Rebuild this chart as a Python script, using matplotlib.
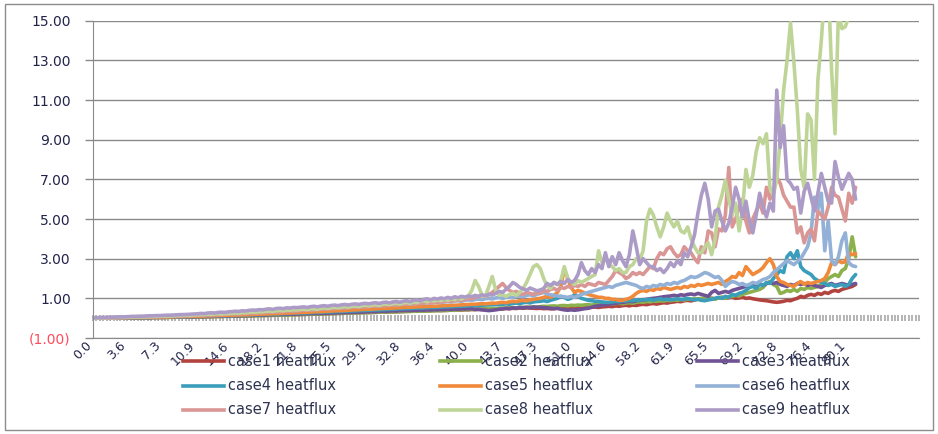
import matplotlib
matplotlib.use("Agg")
import matplotlib.pyplot as plt
from matplotlib.patches import Rectangle
from matplotlib.lines import Line2D
from matplotlib.transforms import ScaledTranslation

# ---------------- data ----------------
n_categories = 241
xtick_labels = ["0.0", "3.6", "7.3", "10.9", "14.6", "18.2", "21.8", "25.5", "29.1", "32.8",
                "36.4", "40.0", "43.7", "47.3", "51.0", "54.6", "58.2", "61.9", "65.5", "69.2",
                "72.8", "76.4", "80.1"]
xtick_index = [0, 10, 20, 30, 40, 50, 60, 70, 80, 90, 100, 110, 120, 130, 140, 150, 160, 170,
               180, 190, 200, 210, 220]
ytick_values = [-1, 1, 3, 5, 7, 9, 11, 13, 15]
ytick_labels = ["(1.00)", "1.00", "3.00", "5.00", "7.00", "9.00", "11.00", "13.00", "15.00"]

case1 = [0.00,0.00,0.00,0.00,0.01,0.01,0.01,0.01,0.01,0.02,
         0.02,0.02,0.02,0.02,0.03,0.03,0.03,0.03,0.04,0.04,
         0.04,0.04,0.05,0.05,0.05,0.05,0.06,0.06,0.06,0.07,
         0.07,0.07,0.08,0.08,0.08,0.09,0.09,0.09,0.10,0.10,
         0.10,0.11,0.11,0.12,0.12,0.12,0.13,0.13,0.14,0.14,
         0.14,0.15,0.15,0.16,0.16,0.17,0.17,0.18,0.18,0.18,
         0.19,0.19,0.20,0.20,0.21,0.21,0.22,0.22,0.23,0.23,
         0.24,0.24,0.25,0.25,0.26,0.26,0.27,0.27,0.28,0.28,
         0.29,0.29,0.30,0.30,0.31,0.31,0.32,0.32,0.33,0.33,
         0.34,0.34,0.35,0.35,0.36,0.36,0.37,0.37,0.38,0.38,
         0.39,0.38,0.40,0.39,0.41,0.40,0.42,0.41,0.43,0.42,
         0.44,0.43,0.45,0.44,0.46,0.45,0.47,0.46,0.48,0.47,
         0.49,0.48,0.50,0.49,0.51,0.50,0.52,0.51,0.50,0.49,
         0.50,0.48,0.49,0.47,0.48,0.50,0.49,0.51,0.50,0.52,
         0.51,0.53,0.52,0.54,0.53,0.55,0.56,0.54,0.57,0.58,
         0.60,0.58,0.62,0.60,0.63,0.65,0.62,0.66,0.64,0.68,
         0.70,0.68,0.72,0.74,0.71,0.75,0.78,0.76,0.80,0.82,
         0.85,0.83,0.88,0.90,0.87,0.92,0.95,0.93,0.98,1.00,
         1.00,0.98,1.02,1.05,1.00,1.03,1.05,1.00,1.02,1.05,
         1.00,1.02,0.98,0.95,0.92,0.90,0.88,0.85,0.82,0.80,
         0.82,0.85,0.90,0.88,0.95,1.00,1.10,1.05,1.15,1.20,
         1.15,1.25,1.20,1.30,1.25,1.35,1.40,1.35,1.45,1.50,1.55,1.60,1.70]

case2 = [0.00,0.00,0.00,0.00,0.01,0.01,0.01,0.01,0.01,0.01,
         0.01,0.02,0.02,0.02,0.02,0.02,0.03,0.03,0.03,0.03,
         0.04,0.04,0.04,0.04,0.05,0.05,0.05,0.06,0.06,0.06,
         0.06,0.07,0.07,0.07,0.08,0.08,0.08,0.09,0.09,0.09,
         0.10,0.10,0.10,0.11,0.11,0.12,0.12,0.12,0.13,0.13,
         0.14,0.14,0.14,0.15,0.15,0.16,0.16,0.17,0.17,0.18,
         0.18,0.19,0.19,0.20,0.20,0.21,0.21,0.22,0.22,0.23,
         0.23,0.24,0.24,0.25,0.25,0.26,0.26,0.27,0.27,0.28,
         0.28,0.29,0.29,0.30,0.30,0.31,0.31,0.32,0.32,0.33,
         0.33,0.34,0.34,0.35,0.35,0.36,0.35,0.37,0.36,0.38,
         0.38,0.39,0.38,0.40,0.41,0.40,0.42,0.43,0.42,0.44,
         0.45,0.44,0.46,0.47,0.46,0.48,0.49,0.48,0.50,0.51,
         0.50,0.52,0.53,0.52,0.54,0.55,0.54,0.56,0.57,0.56,
         0.58,0.60,0.59,0.61,0.62,0.60,0.63,0.64,0.62,0.65,
         0.64,0.66,0.65,0.67,0.68,0.66,0.69,0.70,0.68,0.71,
         0.72,0.70,0.74,0.75,0.73,0.76,0.78,0.75,0.80,0.82,
         0.80,0.84,0.82,0.86,0.85,0.88,0.86,0.90,0.88,0.92,
         0.90,0.94,0.92,0.96,0.95,0.98,0.96,1.00,0.98,1.02,
         1.00,0.96,1.02,1.05,1.00,1.08,1.10,1.15,1.12,1.20,
         1.25,1.30,1.35,1.40,1.45,1.55,1.75,1.85,1.70,1.60,
         1.25,1.30,1.40,1.35,1.45,1.35,1.50,1.45,1.55,1.50,
         1.55,1.60,1.70,1.80,2.00,2.10,2.20,2.10,2.40,2.50,3.00,4.10,3.10]

case3 = [0.00,0.00,0.00,0.01,0.01,0.01,0.01,0.01,0.02,0.02,
         0.02,0.02,0.02,0.03,0.03,0.03,0.03,0.04,0.04,0.04,
         0.04,0.05,0.05,0.05,0.06,0.06,0.06,0.07,0.07,0.07,
         0.08,0.08,0.08,0.09,0.09,0.10,0.10,0.10,0.11,0.11,
         0.12,0.12,0.12,0.13,0.13,0.14,0.14,0.15,0.15,0.16,
         0.16,0.17,0.17,0.18,0.18,0.19,0.19,0.20,0.20,0.21,
         0.21,0.22,0.22,0.23,0.23,0.24,0.24,0.25,0.25,0.26,
         0.26,0.27,0.27,0.28,0.29,0.29,0.30,0.30,0.31,0.31,
         0.32,0.33,0.32,0.34,0.35,0.34,0.36,0.37,0.36,0.38,
         0.38,0.39,0.38,0.40,0.39,0.41,0.40,0.42,0.41,0.43,
         0.42,0.44,0.43,0.45,0.44,0.46,0.45,0.47,0.46,0.48,
         0.47,0.45,0.44,0.42,0.40,0.38,0.40,0.42,0.45,0.47,
         0.50,0.48,0.52,0.50,0.54,0.52,0.55,0.53,0.56,0.55,
         0.55,0.53,0.52,0.50,0.48,0.50,0.45,0.42,0.40,0.42,
         0.40,0.42,0.45,0.48,0.50,0.55,0.60,0.62,0.65,0.68,
         0.70,0.72,0.75,0.78,0.80,0.82,0.85,0.83,0.88,0.90,
         0.92,0.95,0.98,1.00,1.02,1.05,1.08,1.10,1.12,1.15,
         1.12,1.18,1.15,1.20,1.22,1.18,1.25,1.20,1.15,1.10,
         1.30,1.40,1.25,1.30,1.35,1.30,1.40,1.45,1.50,1.55,
         1.60,1.55,1.65,1.70,1.75,1.65,1.75,1.80,1.75,1.80,
         1.70,1.65,1.60,1.70,1.65,1.75,1.70,1.75,1.65,1.70,
         1.65,1.60,1.55,1.65,1.70,1.75,1.65,1.70,1.75,1.70,1.65,1.70,1.75]

case4 = [0.00,0.00,0.00,0.01,0.01,0.01,0.01,0.02,0.02,0.02,
         0.02,0.03,0.03,0.03,0.04,0.04,0.04,0.05,0.05,0.05,
         0.06,0.06,0.06,0.07,0.07,0.08,0.08,0.08,0.09,0.09,
         0.10,0.10,0.11,0.11,0.12,0.12,0.12,0.13,0.13,0.14,
         0.14,0.15,0.15,0.16,0.16,0.17,0.17,0.18,0.18,0.19,
         0.20,0.20,0.21,0.21,0.22,0.23,0.23,0.24,0.25,0.25,
         0.26,0.27,0.27,0.28,0.29,0.29,0.30,0.31,0.31,0.32,
         0.33,0.34,0.34,0.35,0.36,0.36,0.37,0.38,0.39,0.39,
         0.40,0.41,0.42,0.42,0.43,0.44,0.45,0.45,0.46,0.47,
         0.48,0.48,0.49,0.50,0.51,0.51,0.52,0.53,0.54,0.54,
         0.55,0.56,0.57,0.57,0.58,0.59,0.60,0.60,0.61,0.62,
         0.63,0.64,0.64,0.65,0.66,0.67,0.68,0.68,0.69,0.70,
         0.72,0.70,0.74,0.76,0.73,0.78,0.80,0.77,0.82,0.84,
         0.85,0.88,0.84,0.90,0.95,1.00,1.10,1.05,0.95,1.00,
         1.20,1.10,1.00,0.95,0.90,0.88,0.85,0.84,0.82,0.80,
         0.80,0.82,0.85,0.83,0.88,0.86,0.90,0.88,0.92,0.90,
         0.94,0.92,0.96,0.90,0.95,0.98,0.93,0.96,0.92,0.95,
         0.98,0.94,0.96,1.00,0.95,0.92,0.96,0.90,0.88,0.92,
         0.95,1.00,1.05,1.00,1.10,1.05,1.20,1.15,1.25,1.30,
         1.40,1.55,1.60,1.50,1.70,1.65,1.80,1.75,2.00,2.20,
         2.40,2.30,3.10,3.30,3.00,3.40,2.60,2.40,2.30,2.20,
         2.00,1.90,1.80,1.75,1.65,1.70,1.60,1.65,1.70,1.60,1.70,2.00,2.20]

case5 = [0.00,0.00,0.01,0.01,0.01,0.01,0.02,0.02,0.02,0.02,
         0.03,0.03,0.03,0.04,0.04,0.04,0.05,0.05,0.05,0.06,
         0.06,0.06,0.07,0.07,0.08,0.08,0.08,0.09,0.09,0.10,
         0.10,0.11,0.11,0.12,0.12,0.13,0.13,0.14,0.14,0.15,
         0.15,0.16,0.16,0.17,0.17,0.18,0.19,0.19,0.20,0.21,
         0.21,0.22,0.23,0.23,0.24,0.25,0.26,0.26,0.27,0.28,
         0.29,0.29,0.30,0.31,0.32,0.33,0.33,0.34,0.35,0.36,
         0.37,0.38,0.38,0.39,0.40,0.41,0.42,0.43,0.44,0.45,
         0.45,0.46,0.47,0.48,0.49,0.50,0.50,0.51,0.52,0.53,
         0.54,0.55,0.55,0.56,0.57,0.58,0.58,0.59,0.60,0.60,
         0.61,0.62,0.63,0.64,0.64,0.65,0.66,0.67,0.68,0.69,
         0.70,0.70,0.72,0.73,0.72,0.74,0.76,0.75,0.78,0.80,
         0.78,0.82,0.85,0.83,0.88,0.90,0.87,0.92,0.95,0.98,
         1.00,1.05,1.10,1.05,1.15,1.30,1.60,2.50,2.00,1.55,
         1.30,1.40,1.35,1.25,1.20,1.15,1.10,1.05,1.05,1.00,
         1.00,0.95,0.95,0.90,0.90,0.95,1.00,1.10,1.25,1.35,
         1.40,1.35,1.45,1.40,1.50,1.45,1.55,1.50,1.45,1.50,
         1.55,1.50,1.60,1.55,1.65,1.60,1.70,1.65,1.70,1.75,
         1.70,1.75,1.80,1.70,1.85,1.95,2.10,2.05,2.30,2.15,
         2.60,2.40,2.20,2.30,2.40,2.55,2.80,3.00,2.70,2.10,
         1.85,1.80,1.70,1.65,1.60,1.75,1.85,1.70,1.80,1.75,
         1.80,1.85,1.90,2.00,2.30,2.80,2.70,2.90,2.80,2.85,3.30,3.20,3.25]

case6 = [0.01,0.01,0.02,0.02,0.02,0.03,0.03,0.04,0.04,0.04,
         0.05,0.05,0.06,0.06,0.07,0.07,0.08,0.08,0.09,0.09,
         0.10,0.10,0.11,0.11,0.12,0.12,0.13,0.14,0.14,0.15,
         0.16,0.16,0.17,0.18,0.18,0.19,0.20,0.21,0.21,0.22,
         0.23,0.24,0.24,0.25,0.26,0.27,0.28,0.28,0.29,0.30,
         0.31,0.32,0.33,0.33,0.34,0.35,0.36,0.37,0.38,0.38,
         0.40,0.41,0.41,0.43,0.44,0.44,0.46,0.47,0.47,0.49,
         0.50,0.51,0.51,0.53,0.54,0.55,0.56,0.56,0.58,0.59,
         0.60,0.61,0.62,0.62,0.64,0.65,0.66,0.66,0.68,0.69,
         0.70,0.71,0.72,0.73,0.74,0.75,0.76,0.77,0.78,0.79,
         0.80,0.79,0.82,0.84,0.82,0.86,0.88,0.85,0.90,0.92,
         0.90,0.94,0.96,0.93,0.98,1.00,0.97,1.02,1.05,1.00,
         1.05,1.08,1.04,1.10,1.12,1.08,1.15,1.18,1.12,1.20,
         1.25,1.30,1.22,1.18,1.15,1.12,1.10,1.08,1.05,1.10,
         1.05,1.12,1.20,1.25,1.30,1.35,1.40,1.45,1.50,1.55,
         1.60,1.55,1.65,1.70,1.75,1.80,1.75,1.70,1.65,1.55,
         1.50,1.60,1.55,1.65,1.60,1.70,1.65,1.75,1.70,1.80,
         1.75,1.85,1.90,2.00,2.10,2.05,2.10,2.20,2.30,2.25,
         2.15,2.05,2.10,1.90,1.60,1.75,1.85,1.80,1.70,1.75,
         1.65,1.70,1.80,1.75,1.85,1.95,2.00,2.10,2.30,2.45,
         2.60,2.75,2.90,2.80,2.70,2.85,3.00,3.30,3.60,4.30,
         6.10,5.50,6.30,3.40,4.90,2.90,2.70,3.10,3.90,4.30,2.80,2.65,2.60]

case7 = [0.00,0.01,0.01,0.01,0.02,0.02,0.02,0.03,0.03,0.03,
         0.04,0.04,0.05,0.05,0.05,0.06,0.06,0.07,0.07,0.08,
         0.08,0.09,0.09,0.10,0.10,0.11,0.11,0.12,0.12,0.13,
         0.14,0.14,0.15,0.16,0.16,0.17,0.18,0.18,0.19,0.20,
         0.21,0.21,0.22,0.23,0.24,0.24,0.25,0.26,0.27,0.28,
         0.29,0.30,0.30,0.32,0.32,0.34,0.34,0.36,0.36,0.38,
         0.38,0.40,0.40,0.42,0.42,0.44,0.45,0.45,0.47,0.48,
         0.49,0.50,0.50,0.52,0.53,0.54,0.55,0.55,0.57,0.58,
         0.59,0.60,0.60,0.62,0.63,0.64,0.66,0.65,0.68,0.69,
         0.70,0.72,0.70,0.74,0.75,0.73,0.77,0.79,0.76,0.80,
         0.82,0.80,0.85,0.88,0.84,0.90,0.93,0.89,0.95,1.00,
         0.98,1.05,1.10,1.15,1.08,1.20,1.30,1.45,1.60,1.75,
         1.55,1.40,1.30,1.35,1.25,1.20,1.30,1.25,1.20,1.30,
         1.25,1.40,1.35,1.45,1.50,1.40,1.55,1.50,1.60,1.55,
         1.65,1.60,1.70,1.60,1.75,1.70,1.65,1.80,1.75,1.70,
         1.90,2.10,2.40,2.30,2.20,2.00,2.10,2.30,2.20,2.30,
         2.20,2.40,2.60,2.50,3.00,3.30,3.20,3.50,3.60,3.30,
         3.10,3.20,3.60,3.40,3.30,3.00,2.80,3.60,3.30,4.40,
         4.30,3.60,4.50,4.40,5.20,7.60,4.60,5.00,5.60,6.00,
         4.90,4.30,5.00,5.40,5.80,5.30,6.60,6.00,6.40,7.10,
         6.80,6.20,5.90,5.60,5.60,4.30,4.60,3.80,4.30,4.50,
         3.90,5.40,5.20,5.00,5.60,6.60,6.20,6.10,5.50,4.90,6.30,5.80,6.60]

case8 = [0.01,0.01,0.02,0.02,0.03,0.03,0.03,0.04,0.04,0.05,
         0.05,0.06,0.06,0.07,0.07,0.08,0.08,0.09,0.09,0.10,
         0.10,0.11,0.11,0.12,0.13,0.13,0.14,0.15,0.15,0.16,
         0.17,0.18,0.18,0.20,0.19,0.21,0.22,0.21,0.23,0.24,
         0.25,0.26,0.25,0.28,0.27,0.30,0.31,0.30,0.33,0.32,
         0.35,0.36,0.34,0.38,0.39,0.37,0.41,0.40,0.43,0.42,
         0.44,0.46,0.43,0.48,0.47,0.45,0.50,0.52,0.49,0.53,
         0.55,0.52,0.56,0.58,0.55,0.60,0.62,0.58,0.63,0.65,
         0.62,0.66,0.68,0.64,0.70,0.72,0.68,0.73,0.75,0.71,
         0.76,0.80,0.74,0.82,0.78,0.85,0.88,0.82,0.90,0.86,
         0.92,0.88,0.95,0.90,0.98,0.93,1.00,0.96,1.05,1.10,
         1.40,1.90,1.60,1.15,1.10,1.60,2.10,1.40,1.15,1.20,
         1.10,1.20,1.25,1.15,1.30,1.50,1.80,2.20,2.60,2.70,
         2.50,2.00,1.60,1.50,1.80,1.70,1.90,2.60,2.00,1.80,
         1.70,1.90,1.80,1.90,2.00,2.10,2.20,3.40,2.80,3.00,
         2.70,2.60,2.40,2.50,2.30,2.30,2.60,2.70,3.00,2.90,
         3.40,4.90,5.50,5.20,4.60,4.10,4.60,5.30,4.90,4.60,
         4.90,4.40,4.30,4.60,4.00,3.60,3.30,3.30,3.60,3.80,
         3.20,4.00,5.60,6.20,6.95,6.00,5.20,5.80,4.40,5.50,
         7.50,6.60,7.20,8.40,9.10,8.80,9.30,6.60,6.20,7.00,
         9.00,11.50,13.00,14.90,12.90,10.50,7.50,6.60,10.30,10.00,
         7.00,12.00,14.00,16.50,17.00,12.50,9.30,15.50,14.60,14.70,15.20,16.00,16.50]

case9 = [0.02,0.03,0.03,0.04,0.04,0.05,0.05,0.06,0.06,0.07,
         0.08,0.09,0.09,0.10,0.10,0.11,0.12,0.12,0.13,0.13,
         0.14,0.15,0.15,0.16,0.17,0.18,0.18,0.19,0.20,0.21,
         0.22,0.24,0.23,0.26,0.27,0.26,0.29,0.30,0.29,0.32,
         0.33,0.35,0.34,0.37,0.36,0.39,0.41,0.40,0.43,0.42,
         0.45,0.47,0.44,0.49,0.50,0.48,0.52,0.51,0.54,0.53,
         0.55,0.57,0.54,0.58,0.60,0.57,0.61,0.63,0.60,0.64,
         0.66,0.63,0.67,0.69,0.66,0.70,0.72,0.69,0.73,0.75,
         0.72,0.76,0.78,0.74,0.79,0.81,0.77,0.82,0.84,0.80,
         0.85,0.88,0.83,0.90,0.92,0.87,0.95,0.98,0.92,1.00,
         0.96,1.02,0.98,1.05,1.00,1.08,1.03,1.10,1.06,1.12,
         1.08,1.15,1.10,1.18,1.13,1.20,1.16,1.25,1.35,1.30,
         1.45,1.60,1.80,1.70,1.55,1.48,1.40,1.52,1.45,1.38,
         1.42,1.50,1.75,1.65,1.80,1.70,1.85,1.75,1.95,1.80,
         1.90,2.20,2.80,2.40,2.20,2.50,2.30,2.70,2.50,3.30,
         2.60,3.10,2.70,3.30,2.90,2.60,3.20,4.40,3.60,2.70,
         3.00,2.80,2.60,2.60,2.40,2.50,2.30,2.50,2.80,2.60,
         2.90,2.70,3.30,3.10,3.60,4.20,5.30,6.20,6.80,6.00,
         4.60,5.40,5.50,4.90,4.40,4.80,5.60,6.60,6.00,5.10,
         5.90,4.90,4.30,5.20,6.30,5.60,5.10,5.80,5.40,11.50,
         8.60,9.70,7.00,6.80,6.50,6.60,5.30,6.40,6.80,6.10,
         5.40,6.30,7.30,6.60,5.90,5.80,7.90,7.10,6.50,6.90,7.30,7.00,6.00]

series = [case1, case2, case3, case4, case5, case6, case7, case8, case9]
series_names = ["case1 heatflux", "case2 heatflux", "case3 heatflux",
                "case4 heatflux", "case5 heatflux", "case6 heatflux",
                "case7 heatflux", "case8 heatflux", "case9 heatflux"]
series_colors = ["#B3433F", "#8CB04B", "#6F5394", "#3A9EBB", "#F08A3A",
                 "#93B1D6", "#D99694", "#BFD598", "#AC9BC6"]

# ---------------- figure ----------------
W, H = 938, 434
fig = plt.figure(figsize=(W / 100, H / 100), dpi=100)
fig.patch.set_facecolor("white")
fig.patches.append(Rectangle((5 / W, 4 / H), 928 / W, 426 / H, transform=fig.transFigure,
                             fill=False, edgecolor="#8C8C8C", linewidth=1.0))

ax_left, ax_right = 93 / W, 919 / W
ax_top, ax_bottom = 1 - 20.7 / H, 1 - 338 / H
ax = fig.add_axes([ax_left, ax_bottom, ax_right - ax_left, ax_top - ax_bottom])

grid_color = "#8A8A8A"
ax.set_ylim(-1, 15)
ax.set_xlim(-0.5, n_categories - 0.5)
ax.set_yticks(ytick_values)
ax.set_yticklabels(ytick_labels)
for lbl in ax.get_yticklabels():
    lbl.set_color("#FF4B5C" if lbl.get_text().startswith("(") else "#23234A")
    lbl.set_fontsize(10)
ax.tick_params(axis="y", length=6, width=1, color=grid_color, pad=10, direction="out")
ax.yaxis.grid(True, color=grid_color, linewidth=1.0)
ax.set_axisbelow(True)

ax.set_xticks(xtick_index)
ax.set_xticklabels(xtick_labels, rotation=45, ha="right", va="center",
                   rotation_mode="anchor", fontsize=9, color="#23234A")
ax.tick_params(axis="x", length=0, pad=4)
shift = ScaledTranslation(-5 / 100, 0, fig.dpi_scale_trans)
for lbl in ax.get_xticklabels():
    lbl.set_transform(lbl.get_transform() + shift)

for s in ["top", "right"]:
    ax.spines[s].set_visible(False)
ax.spines["left"].set_color(grid_color)
ax.spines["bottom"].set_color(grid_color)

# category tick marks at the zero line
sec = ax.secondary_xaxis(1 / 16)
sec.set_xticks([i - 0.5 for i in range(n_categories + 1)])
sec.set_xticklabels([])
sec.tick_params(axis="x", direction="inout", length=4, width=1.1, color="#A0A0A0")
sec.spines["bottom"].set_visible(False)
sec.spines["top"].set_visible(False)

for vals, name, col in zip(series, series_names, series_colors):
    ax.plot(range(len(vals)), vals, color=col, linewidth=2.6, label=name,
            solid_joinstyle="round", solid_capstyle="round")

# legend: 3 columns x 3 rows, placed in figure pixels
col_handle_x = [183, 440, 697]
row_y = [361, 385.5, 410]
handle_len = 41
for k, (name, col) in enumerate(zip(series_names, series_colors)):
    r, c = divmod(k, 3)
    x0 = col_handle_x[c]
    y = 1 - row_y[r] / H
    fig.add_artist(Line2D([x0 / W, (x0 + handle_len) / W], [y, y], transform=fig.transFigure,
                          color=col, linewidth=2.6))
    fig.text((x0 + handle_len + 4) / W, y, name, ha="left", va="center",
             fontsize=10.5, color="#2E3350")

fig.savefig("out.png", dpi=100)
